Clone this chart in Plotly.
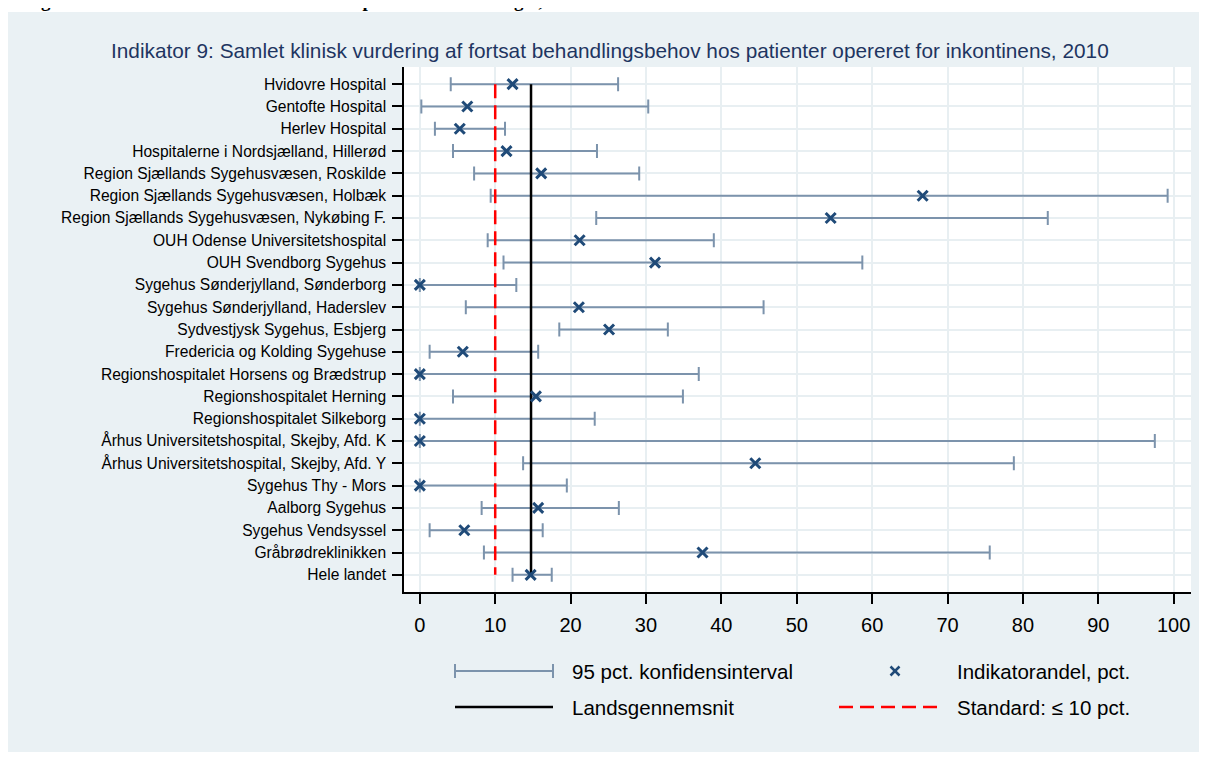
import plotly.graph_objects as go

# ---------------- data ----------------
hospitals = [
    "Hvidovre Hospital",
    "Gentofte Hospital",
    "Herlev Hospital",
    "Hospitalerne i Nordsjælland, Hillerød",
    "Region Sjællands Sygehusvæsen, Roskilde",
    "Region Sjællands Sygehusvæsen, Holbæk",
    "Region Sjællands Sygehusvæsen, Nykøbing F.",
    "OUH Odense Universitetshospital",
    "OUH Svendborg Sygehus",
    "Sygehus Sønderjylland, Sønderborg",
    "Sygehus Sønderjylland, Haderslev",
    "Sydvestjysk Sygehus, Esbjerg",
    "Fredericia og Kolding Sygehuse",
    "Regionshospitalet Horsens og Brædstrup",
    "Regionshospitalet Herning",
    "Regionshospitalet Silkeborg",
    "Århus Universitetshospital, Skejby, Afd. K",
    "Århus Universitetshospital, Skejby, Afd. Y",
    "Sygehus Thy - Mors",
    "Aalborg Sygehus",
    "Sygehus Vendsyssel",
    "Gråbrødreklinikken",
    "Hele landet",
]
andel = [12.3, 6.3, 5.3, 11.5, 16.1, 66.7, 54.5, 21.2, 31.2, 0.0, 21.1, 25.1,
         5.7, 0.0, 15.4, 0.0, 0.0, 44.5, 0.0, 15.7, 5.9, 37.5, 14.7]
ci_lo = [4.1, 0.2, 2.0, 4.4, 7.2, 9.4, 23.4, 9.0, 11.1, 0.0, 6.1, 18.5,
         1.3, 0.0, 4.4, 0.0, 0.0, 13.7, 0.0, 8.2, 1.3, 8.5, 12.3]
ci_hi = [26.3, 30.3, 11.3, 23.5, 29.1, 99.2, 83.3, 39.0, 58.7, 12.8, 45.6, 32.9,
         15.7, 37.0, 34.9, 23.2, 97.5, 78.8, 19.5, 26.4, 16.3, 75.6, 17.5]
landsgennemsnit = 14.75
standard = 10
x_ticks = [0, 10, 20, 30, 40, 50, 60, 70, 80, 90, 100]

title_text = ("Indikator 9: Samlet klinisk vurdering af fortsat behandlingsbehov "
              "hos patienter opereret for inkontinens, 2010")
header_text = ("Figur 9.1: Indikator 9 – resultater fordelt på tværs af "
               "afdelinger, 2010")
legend_labels = ["95 pct. konfidensinterval", "Indikatorandel, pct.",
                 "Landsgennemsnit", "Standard: ≤ 10 pct."]

# ---------------- styles ----------------
CI_COL = "#7C93AC"
MK_COL = "#1F4A78"
BG = "#EAF1F4"
GRID = "#E8EFF2"
OFF = 8  # page body margin
W, H = 1207 - 2 * OFF, 760 - 2 * OFF
L, R, T, B = 396, 8, 59, 160
PW = W - L - R
PH = H - T - B
FONT = "Liberation Sans, Arial"


def px(x):  # screen x -> paper
    return (x - OFF - L) / PW


def py(y):  # screen y -> paper
    return (H - B - (y - OFF)) / PH


fig = go.Figure()

# confidence intervals
fig.add_trace(go.Scatter(
    x=andel, y=hospitals, mode="markers",
    marker=dict(size=1, opacity=0),
    error_x=dict(type="data", symmetric=False,
                 array=[h - a for h, a in zip(ci_hi, andel)],
                 arrayminus=[a - l for a, l in zip(andel, ci_lo)],
                 color=CI_COL, thickness=2, width=7),
    showlegend=False, hoverinfo="skip"))

# standard line
fig.add_trace(go.Scatter(
    x=[standard, standard], y=[hospitals[0], hospitals[-1]], mode="lines",
    line=dict(color="#FF0000", width=2.5, dash="14px,7px"),
    showlegend=False, hoverinfo="skip"))

# national average
fig.add_trace(go.Scatter(
    x=[landsgennemsnit, landsgennemsnit], y=[hospitals[0], hospitals[-1]],
    mode="lines", line=dict(color="black", width=2.5),
    showlegend=False, hoverinfo="skip"))

# indicator values
fig.add_trace(go.Scatter(
    x=andel, y=hospitals, mode="markers",
    marker=dict(symbol="x-thin", size=10, line=dict(color=MK_COL, width=3),
                color=MK_COL),
    showlegend=False))

shapes = []
annotations = []

# white strip above the light panel
shapes.append(dict(type="rect", xref="paper", yref="paper",
                   x0=px(0), x1=px(1210), y0=py(12), y1=py(0),
                   fillcolor="white", line=dict(width=0), layer="below"))

# ---- manual legend ----
r1, r2 = 671, 707
shapes.append(dict(type="line", xref="paper", yref="paper",
                   x0=px(455), x1=px(553), y0=py(r1), y1=py(r1),
                   line=dict(color=CI_COL, width=2)))
for xc in (455, 553):
    shapes.append(dict(type="line", xref="paper", yref="paper",
                       x0=px(xc), x1=px(xc), y0=py(r1 - 7), y1=py(r1 + 7),
                       line=dict(color=CI_COL, width=2)))
for (a, b) in ((-4.5, 4.5), (4.5, -4.5)):
    shapes.append(dict(type="line", xref="paper", yref="paper",
                       x0=px(895 - 4.5), x1=px(895 + 4.5),
                       y0=py(r1 + a), y1=py(r1 + b),
                       line=dict(color=MK_COL, width=2.5)))
shapes.append(dict(type="line", xref="paper", yref="paper",
                   x0=px(455), x1=px(553), y0=py(r2), y1=py(r2),
                   line=dict(color="black", width=2.5)))
shapes.append(dict(type="line", xref="paper", yref="paper",
                   x0=px(839), x1=px(938), y0=py(r2), y1=py(r2),
                   line=dict(color="#FF0000", width=2.5, dash="14px,7px")))

leg_pos = [(570, r1), (955, r1), (570, r2), (955, r2)]
for lab, (lx, ly) in zip(legend_labels, leg_pos):
    annotations.append(dict(text=lab, xref="paper", yref="paper",
                            x=px(lx), y=py(ly), xanchor="left", yanchor="middle",
                            showarrow=False,
                            font=dict(family=FONT, size=20.5, color="black")))

# title
annotations.append(dict(text=title_text, xref="paper", yref="paper",
                        x=px(610), y=py(51), xanchor="center", yanchor="middle",
                        showarrow=False,
                        font=dict(family=FONT, size=20.8, color="#1E3561")))
# clipped document header
annotations.append(dict(text="<b>" + header_text + "</b>", xref="paper",
                        yref="paper", x=px(22), y=py(13), xanchor="left",
                        yanchor="bottom", showarrow=False,
                        font=dict(family="Liberation Serif, Times New Roman",
                                  size=19, color="black")))

fig.update_layout(
    width=W, height=H,
    margin=dict(l=L, r=R, t=T, b=B, pad=0),
    paper_bgcolor=BG, plot_bgcolor="white",
    shapes=shapes, annotations=annotations,
    showlegend=False,
    font=dict(family=FONT, color="black"),
)
fig.update_xaxes(
    range=[-2.1, 102.3], tickvals=x_ticks, ticktext=[str(v) for v in x_ticks],
    showgrid=True, gridcolor=GRID, gridwidth=2, zeroline=False,
    showline=True, linecolor="black", linewidth=1.5,
    ticks="outside", ticklen=10, tickwidth=1.5, tickcolor="black",
    tickfont=dict(size=20, color="black"), ticklabelstandoff=4)
fig.update_yaxes(
    type="category", categoryorder="array", categoryarray=hospitals,
    range=[len(hospitals) - 1 + 0.77, -0.77],
    showgrid=True, gridcolor=GRID, gridwidth=2, zeroline=False,
    showline=True, linecolor="black", linewidth=1.5,
    ticks="outside", ticklen=10, tickwidth=1.5, tickcolor="black",
    tickfont=dict(size=15.6, color="black"), ticklabelstandoff=3)

fig.write_html("out.html")
